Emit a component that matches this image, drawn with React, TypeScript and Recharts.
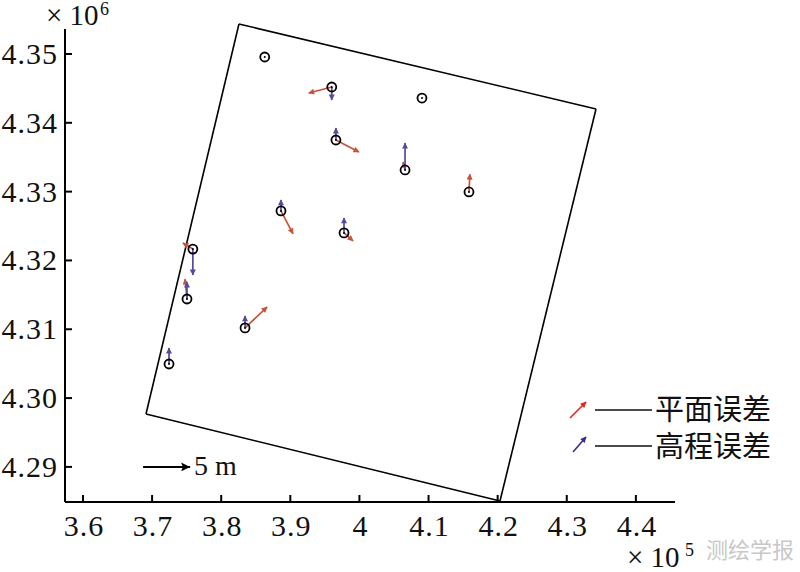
import React from "react";
import { ComposedChart, XAxis, YAxis, Scatter, ReferenceLine } from "recharts";

// 检查点坐标 (m)
const pointX = [386300, 396000, 396600, 388650, 409050, 406600, 415850, 397770, 375900, 375050, 383450, 372450];
const pointY = [4349560, 4345200, 4337500, 4327200, 4343600, 4333150, 4329950, 4324000, 4321650, 4314400, 4310200, 4304950];

// 平面误差 (m)：东向 / 北向
const planeE = [0, -2.45, 2.45, 1.28, 0, -0.21, 0.1, 0.96, -1.06, -0.21, 2.34, 0];
const planeN = [0, -0.64, -1.28, -2.45, 0, 0.85, 1.9, -0.85, 0.64, 2.13, 2.23, 0];

// 高程误差 (m)
const heightZ = [0, -1.38, 1.28, 1.17, 0, 2.87, 0, 1.6, -2.77, 1.8, 1.28, 1.7];

// 测区边界
const boundaryX = [382570, 434230, 420340, 369120];
const boundaryY = [4354360, 4342010, 4285050, 4297690];

const xTicks = [360000, 370000, 380000, 390000, 400000, 410000, 420000, 430000, 440000];
const yTicks = [4290000, 4300000, 4310000, 4320000, 4330000, 4340000, 4350000];

const ARROW_SCALE = 1360; // 图上每米误差对应的坐标长度
const SCALE_LEN = 5; // 比例箭头 5 m
const scaleOrigin = { x: 368700, y: 4290000 };

const RED = "#c4553b";
const BLUE = "#564a9c";
const LEGEND_RED = "#e5231f";
const LEGEND_BLUE = "#3b2d85";
const FONT = "'Liberation Serif', 'Times New Roman', serif";
const CJK = "'Noto Sans CJK SC', sans-serif";

const points = pointX.map((x, i) => ({ x, y: pointY[i] }));

const planeArrows = pointX
  .map((x, i) => ({
    x0: x,
    y0: pointY[i],
    x1: x + planeE[i] * ARROW_SCALE,
    y1: pointY[i] + planeN[i] * ARROW_SCALE,
  }))
  .filter((a) => a.x0 !== a.x1 || a.y0 !== a.y1);

const heightArrows = pointX
  .map((x, i) => ({ x0: x, y0: pointY[i], x1: x, y1: pointY[i] + heightZ[i] * ARROW_SCALE }))
  .filter((a) => a.y0 !== a.y1);

const boundary = boundaryX.map((x, i) => ({
  x0: x,
  y0: boundaryY[i],
  x1: boundaryX[(i + 1) % boundaryX.length],
  y1: boundaryY[(i + 1) % boundaryY.length],
}));

function XTick({ x, y, payload }: any) {
  const v = Math.round(payload.value / 1e4) / 10;
  return (
    <g>
      <line x1={x} y1={y} x2={x} y2={y - 7} stroke="#000" strokeWidth={2} />
      <text x={x + 1} y={y + 34} textAnchor="middle" fontFamily={FONT} fontSize={30} letterSpacing={1} fill="#111">
        {v}
      </text>
    </g>
  );
}

function YTick({ x, y, payload }: any) {
  return (
    <g>
      <line x1={x} y1={y} x2={x + 7} y2={y} stroke="#000" strokeWidth={2} />
      <text x={x - 7} y={y + 10} textAnchor="end" fontFamily={FONT} fontSize={30} letterSpacing={1} fill="#111">
        {(payload.value / 1e6).toFixed(2)}
      </text>
    </g>
  );
}

function Ring({ cx, cy }: any) {
  return (
    <g>
      <circle cx={cx} cy={cy} r={4.5} fill="none" stroke="#000" strokeWidth={1.8} />
      <circle cx={cx} cy={cy} r={1} fill="#000" />
    </g>
  );
}

function Head({ id, color }: { id: string; color: string }) {
  return (
    <marker id={id} viewBox="0 0 10 10" refX="9" refY="5" markerWidth="7" markerHeight="6" markerUnits="userSpaceOnUse" orient="auto">
      <path d="M0,0 L10,5 L0,10 z" fill={color} />
    </marker>
  );
}

export default function App() {
  return (
    <div style={{ position: "absolute", left: 0, top: 0, width: 800, height: 572, background: "#fff" }}>
      <svg width={0} height={0} style={{ position: "absolute" }}>
        <defs>
          <Head id="headRed" color={RED} />
          <Head id="headBlue" color={BLUE} />
          <Head id="headLegendRed" color={LEGEND_RED} />
          <Head id="headLegendBlue" color={LEGEND_BLUE} />
          <marker id="headBlack" viewBox="0 0 10 10" refX="10" refY="5" markerWidth="22" markerHeight="9" markerUnits="userSpaceOnUse" orient="auto">
            <path d="M0,0 L10,5 L0,10 L2,5 z" fill="#000" />
          </marker>
        </defs>
      </svg>

      <ComposedChart width={800} height={572} margin={{ top: 29, right: 125, bottom: 30, left: 0 }}>
        <XAxis
          type="number"
          dataKey="x"
          domain={[357400, 445660]}
          ticks={xTicks}
          tick={<XTick />}
          tickLine={false}
          tickSize={0}
          tickMargin={0}
          height={40}
          axisLine={{ stroke: "#000", strokeWidth: 2 }}
          interval={0}
        />
        <YAxis
          type="number"
          dataKey="y"
          domain={[4284900, 4353630]}
          ticks={yTicks}
          tick={<YTick />}
          tickLine={false}
          tickSize={0}
          tickMargin={0}
          width={65}
          axisLine={{ stroke: "#000", strokeWidth: 2 }}
          interval={0}
        />
        {boundary.map((s, i) => (
          <ReferenceLine
            key={`b${i}`}
            segment={[{ x: s.x0, y: s.y0 }, { x: s.x1, y: s.y1 }]}
            stroke="#000"
            strokeWidth={1.6}
            ifOverflow="visible"
          />
        ))}
        {planeArrows.map((a, i) => (
          <ReferenceLine
            key={`p${i}`}
            segment={[{ x: a.x0, y: a.y0 }, { x: a.x1, y: a.y1 }]}
            stroke={RED}
            strokeWidth={1.7}
            ifOverflow="visible"
            markerEnd="url(#headRed)"
          />
        ))}
        {heightArrows.map((a, i) => (
          <ReferenceLine
            key={`h${i}`}
            segment={[{ x: a.x0, y: a.y0 }, { x: a.x1, y: a.y1 }]}
            stroke={BLUE}
            strokeWidth={1.7}
            ifOverflow="visible"
            markerEnd="url(#headBlue)"
          />
        ))}
        <ReferenceLine
          segment={[
            { x: scaleOrigin.x, y: scaleOrigin.y },
            { x: scaleOrigin.x + SCALE_LEN * ARROW_SCALE, y: scaleOrigin.y },
          ]}
          stroke="#000"
          strokeWidth={2}
          ifOverflow="visible"
          markerEnd="url(#headBlack)"
        />
        <Scatter data={points} dataKey="y" shape={<Ring />} isAnimationActive={false} />
      </ComposedChart>

      <svg width={800} height={572} style={{ position: "absolute", left: 0, top: 0, pointerEvents: "none" }}>
        <text x={46} y={25} fontFamily={FONT} fontSize={29} fill="#111">× 10</text>
        <text x={100} y={15} fontFamily={FONT} fontSize={18} fill="#111">6</text>
        <text x={627} y={567} fontFamily={FONT} fontSize={29} fill="#111">× 10</text>
        <text x={685} y={556} fontFamily={FONT} fontSize={18} fill="#111">5</text>
        <text x={194} y={475} fontFamily={FONT} fontSize={28} fill="#111">5 m</text>

        <line x1={570} y1={418} x2={586} y2={402} stroke={LEGEND_RED} strokeWidth={1.6} markerEnd="url(#headLegendRed)" />
        <line x1={595} y1={410} x2={652} y2={410} stroke="#111" strokeWidth={1.4} />
        <text x={655} y={420} fontFamily={CJK} fontSize={29} fill="#111">平面误差</text>
        <line x1={573} y1={452} x2={586} y2={437} stroke={LEGEND_BLUE} strokeWidth={1.6} markerEnd="url(#headLegendBlue)" />
        <line x1={595} y1={446} x2={652} y2={446} stroke="#111" strokeWidth={1.4} />
        <text x={655} y={457} fontFamily={CJK} fontSize={29} fill="#111">高程误差</text>

        <text x={706} y={558} fontFamily={CJK} fontSize={22} fill="#c8c8c8">测绘学报</text>
      </svg>
    </div>
  );
}
